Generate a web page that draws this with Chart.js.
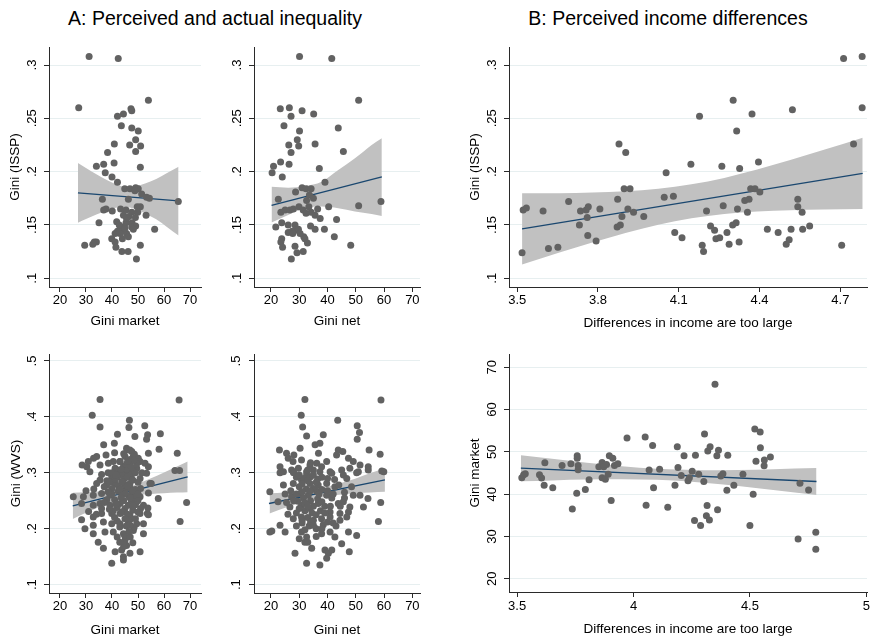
<!DOCTYPE html>
<html><head><meta charset="utf-8">
<script src="https://cdn.jsdelivr.net/npm/chart.js@4/dist/chart.umd.min.js"></script>
<style>
html,body{margin:0;padding:0;background:#fff;width:871px;height:641px;overflow:hidden;position:relative;font-family:"Liberation Sans",Arial,sans-serif}
.box{position:absolute}
.ttl{position:absolute;top:7px;font-size:19.5px;line-height:22px;color:#000;white-space:nowrap;transform:translateX(-50%)}
</style></head><body>
<div class="ttl" style="left:215px">A: Perceived and actual inequality</div>
<div class="ttl" style="left:668px">B: Perceived income differences</div>
<canvas id="c1" class="box"></canvas>
<canvas id="c2" class="box"></canvas>
<canvas id="c3" class="box"></canvas>
<canvas id="c4" class="box"></canvas>
<canvas id="c5" class="box"></canvas>
<canvas id="c6" class="box"></canvas>
<script>
// ---------- tick values and labels ----------
const giniTicks = [20, 30, 40, 50, 60, 70];
const giniTickLabels = ['20', '30', '40', '50', '60', '70'];
const issTicks = [0.1, 0.15, 0.2, 0.25, 0.3];
const issTickLabels = ['.1', '.15', '.2', '.25', '.3'];
const wvsTicks = [0.1, 0.2, 0.3, 0.4, 0.5];
const wvsTickLabels = ['.1', '.2', '.3', '.4', '.5'];
const diffTicksTop = [3.5, 3.8, 4.1, 4.4, 4.7];
const diffTickLabelsTop = ['3.5', '3.8', '4.1', '4.4', '4.7'];
const diffTicksBottom = [3.5, 4, 4.5, 5];
const diffTickLabelsBottom = ['3.5', '4', '4.5', '5'];
const marketTicks = [20, 30, 40, 50, 60, 70];
const marketTickLabels = ['20', '30', '40', '50', '60', '70'];

// ---------- ISSP Gini vs market Gini ----------
const isspMarket = [[31.2,.308],[42.4,.306],[27.2,.260],[54.0,.267],[42.1,.252],[44.4,.254],[47.3,.259],[47.6,.257],[43.6,.243],[47.6,.241],[50.1,.238],[40.9,.226],[46.8,.225],[49.1,.230],[51.0,.224],[49.1,.219],[38.3,.218],[40.8,.208],[34.0,.205],[36.8,.207],[50.9,.204],[37.4,.199],[40.0,.195],[42.1,.190],[44.9,.184],[46.9,.184],[49.1,.185],[50.1,.184],[48.8,.182],[51.4,.179],[53.3,.176],[54.4,.175],[65.5,.172],[36.3,.174],[46.3,.174],[36.8,.164],[37.7,.165],[40.1,.163],[43.3,.165],[45.4,.164],[47.6,.162],[49.7,.167],[50.9,.167],[49.9,.162],[44.4,.159],[46.5,.158],[53.1,.159],[49.0,.157],[35.0,.152],[41.8,.153],[45.4,.152],[47.7,.152],[49.1,.149],[43.6,.148],[47.6,.148],[48.2,.146],[56.4,.146],[42.1,.144],[44.4,.145],[41.2,.142],[43.1,.142],[45.6,.142],[46.3,.139],[44.0,.137],[39.9,.137],[41.2,.134],[33.2,.134],[34.0,.134],[32.6,.132],[29.5,.131],[50.9,.131],[41.5,.129],[43.8,.125],[46.2,.125],[49.4,.118],[45.6,.156],[42.8,.150],[45.0,.147]];
const isspMarketFit = [[26.9,.1800],[65.6,.1725]];
const isspMarketUpper = [[26.9,.2080],[30,.2033],[34,.1975],[38,.1921],[42,.1878],[45.5,.1859],[49,.1864],[53,.1892],[57,.1931],[61,.1985],[65.6,.2045]];
const isspMarketLower = [[26.9,.1520],[30,.1555],[34,.1597],[38,.1635],[42,.1664],[45.5,.1669],[49,.1650],[53,.1606],[57,.1553],[61,.1483],[65.6,.1400]];

// ---------- ISSP Gini vs net Gini ----------
const isspNet = [[30.1,.308],[41.5,.306],[51.0,.267],[23.3,.259],[26.5,.260],[31.0,.257],[27.1,.252],[35.1,.254],[24.6,.243],[43.8,.241],[30.1,.238],[29.3,.230],[26.3,.225],[29.8,.224],[35.6,.226],[27.1,.218],[45.6,.219],[23.4,.209],[26.4,.207],[20.9,.205],[20.4,.199],[37.1,.203],[24.0,.195],[39.1,.190],[31.0,.185],[32.4,.184],[34.2,.184],[28.7,.181],[33.6,.178],[35.0,.175],[22.6,.174],[32.6,.173],[51.0,.168],[58.9,.172],[40.4,.167],[36.5,.165],[23.5,.162],[25.0,.164],[26.7,.164],[27.9,.165],[29.9,.167],[31.4,.164],[32.4,.161],[34.2,.162],[33.4,.167],[35.6,.159],[37.4,.156],[43.2,.155],[23.8,.152],[21.7,.148],[26.1,.150],[28.5,.150],[26.1,.143],[27.5,.144],[28.7,.145],[29.7,.146],[34.0,.149],[35.6,.146],[38.9,.146],[31.6,.139],[23.8,.137],[23.5,.134],[32.0,.137],[32.9,.133],[42.4,.139],[24.1,.129],[28.5,.130],[29.2,.124],[31.4,.125],[48.2,.131],[27.2,.118],[27.7,.142],[30.3,.142]];
const isspNetFit = [[20.2,.1684],[59.2,.1950]];
const isspNetUpper = [[20.2,.1859],[26.1,.1850],[32.0,.1866],[37.9,.1906],[43.8,.2016],[49.7,.2125],[55.6,.2250],[59.2,.2313]];
const isspNetLower = [[20.2,.1522],[26.1,.1594],[32.0,.1656],[37.9,.1672],[43.8,.1656],[49.7,.1625],[55.6,.1603],[59.2,.1584]];

// ---------- ISSP Gini vs perceived differences ----------
const isspDiff = [[3.518,.124],[3.522,.164],[3.534,.166],[3.596,.163],[3.616,.128],[3.651,.129],[3.691,.172],[3.731,.150],[3.735,.163],[3.756,.164],[3.760,.157],[3.764,.167],[3.762,.140],[3.793,.135],[3.807,.165],[3.873,.174],[3.878,.226],[3.871,.148],[3.883,.150],[3.889,.158],[3.897,.184],[3.903,.218],[3.919,.184],[3.911,.165],[3.932,.162],[3.970,.158],[4.053,.199],[4.046,.176],[4.080,.177],[4.085,.143],[4.112,.138],[4.145,.207],[4.177,.252],[4.187,.131],[4.192,.125],[4.203,.163],[4.218,.149],[4.233,.145],[4.238,.137],[4.252,.138],[4.260,.205],[4.265,.168],[4.279,.143],[4.287,.132],[4.300,.150],[4.313,.152],[4.302,.267],[4.315,.238],[4.318,.165],[4.324,.134],[4.326,.203],[4.345,.173],[4.355,.162],[4.361,.174],[4.367,.184],[4.372,.254],[4.383,.184],[4.396,.209],[4.401,.181],[4.429,.146],[4.469,.143],[4.499,.132],[4.510,.136],[4.517,.146],[4.522,.258],[4.542,.174],[4.542,.167],[4.558,.162],[4.560,.146],[4.586,.149],[4.705,.131],[4.712,.306],[4.749,.226],[4.781,.308],[4.781,.260]];
const isspDiffFit = [[3.518,.1463],[4.783,.1984]];
const isspDiffUpper = [[3.518,.1797],[3.657,.1798],[3.779,.1804],[3.902,.1817],[4.024,.1840],[4.147,.1881],[4.269,.1941],[4.391,.2019],[4.514,.2108],[4.636,.2202],[4.783,.2319]];
const isspDiffLower = [[3.518,.1128],[3.657,.1242],[3.779,.1336],[3.902,.1425],[4.024,.1503],[4.147,.1563],[4.269,.1603],[4.391,.1627],[4.514,.1639],[4.636,.1646],[4.783,.1650]];

// ---------- WVS Gini vs market Gini ----------
const wvsMarket = [[35.4,.431],[65.8,.430],[32.4,.403],[35.4,.382],[46.7,.394],[46.5,.381],[52.6,.384],[42.1,.369],[48.8,.365],[53.7,.368],[53.3,.360],[58.6,.370],[36.8,.350],[40.9,.353],[45.6,.344],[47.6,.338],[48.6,.333],[54.0,.335],[58.1,.342],[65.1,.335],[37.7,.332],[34.1,.329],[32.9,.326],[30.9,.320],[28.5,.314],[30.3,.311],[45.8,.341],[46.9,.341],[45.0,.329],[48.2,.329],[50.1,.326],[52.7,.317],[50.8,.320],[43.1,.320],[40.5,.320],[38.6,.317],[35.4,.314],[41.2,.308],[44.4,.311],[46.9,.314],[49.5,.308],[54.0,.311],[64.2,.304],[66.0,.304],
[31.5,.302],[35.4,.287],[39.9,.293],[42.4,.299],[45.6,.300],[48.2,.302],[50.8,.290],[53.3,.299],[54.6,.281],[34.1,.281],[37.9,.278],[41.2,.281],[43.7,.284],[46.9,.281],[25.1,.257],[29.0,.257],[32.8,.260],[36.0,.263],[39.2,.260],[42.4,.267],[45.0,.270],[47.6,.264],[50.8,.257],[54.0,.264],[57.8,.254],[68.7,.247],[66.2,.213],[28.3,.245],[32.8,.242],[35.4,.245],[39.2,.242],[43.1,.245],[46.3,.242],[49.5,.248],[52.1,.242],[28.3,.216],[32.8,.221],[36.0,.227],[39.9,.227],[43.1,.227],[46.9,.224],[50.8,.227],[53.6,.227],[29.6,.200],[32.8,.206],[36.7,.212],[39.9,.209],[43.1,.209],[46.3,.212],[49.5,.209],[52.1,.209],[32.8,.191],[37.3,.194],[40.5,.194],[44.4,.191],[48.2,.197],[52.1,.191],[34.7,.176],[45.0,.179],[45.6,.170],[36.7,.165],[41.2,.159],[43.7,.162],[46.9,.156],[50.8,.159],[44.4,.150],[39.9,.138],[44.4,.144],[55.1,.281],[53.8,.237],[54.0,.225],
[42.0,.305],[44.0,.296],[46.0,.306],[47.5,.296],[49.0,.300],[44.5,.288],[46.0,.292],[48.0,.287],[50.0,.283],[42.5,.276],[45.0,.278],[47.0,.273],[49.0,.270],[51.0,.272],[44.0,.262],[46.5,.258],[48.5,.255],[41.0,.252],[44.5,.250],[47.5,.249],[50.0,.251],[42.0,.238],[45.0,.236],[48.0,.233],[51.0,.236],[40.5,.232],[44.0,.230],[47.0,.217],[49.0,.218],[42.0,.214],[45.5,.205],[48.5,.202],[38.0,.286],[40.0,.272],[38.0,.252],[36.0,.236],[34.0,.226],[31.0,.231],[30.0,.268],[33.0,.271],[38.5,.300],[36.0,.297],[51.5,.300],[43.0,.320],[47.0,.324],[49.5,.316],[44.5,.334],[41.0,.336],
[40.0,.300],[42.0,.292],[44.0,.283],[46.0,.276],[48.0,.268],[50.0,.262],[41.0,.288],[43.0,.270],[45.0,.262],[47.0,.255],[49.0,.243],[43.5,.256],[41.5,.244],[40.0,.262],[38.5,.266],[37.0,.275],[39.0,.283],[45.5,.315],[47.5,.310],[43.5,.306],[41.5,.296],[48.5,.322],[46.0,.320],[44.0,.230],[46.0,.226],[48.0,.240],[50.0,.230],[45.0,.218],[43.0,.203],[47.0,.206],[41.0,.220],[39.0,.235],[37.0,.247],[45.0,.186],[47.0,.185],[42.0,.185],[46.5,.195],[44.5,.168],[48.0,.175],[43.0,.176]];
const wvsMarketFit = [[24.9,.2409],[69.1,.2928]];
const wvsMarketUpper = [[24.9,.2644],[30,.2654],[35,.2667],[40,.2686],[45,.2732],[50,.2804],[55,.2901],[60,.3006],[65,.3114],[69.1,.3204]];
const wvsMarketLower = [[24.9,.2174],[30,.2284],[35,.2389],[40,.2487],[45,.2558],[50,.2604],[55,.2623],[60,.2636],[65,.2646],[69.1,.2652]];

// ---------- WVS Gini vs net Gini ----------
const wvsNet = [[32.0,.431],[58.9,.430],[30.7,.403],[31.2,.382],[43.6,.394],[32.6,.366],[50.5,.384],[51.3,.372],[50.5,.360],[38.5,.368],[37.3,.353],[35.6,.350],[23.0,.341],[30.3,.344],[25.5,.335],[28.1,.332],[36.8,.335],[43.8,.341],[43.2,.332],[45.4,.338],[54.7,.341],[58.6,.333],[26.1,.326],[27.8,.320],[30.8,.323],[33.8,.314],[36.2,.317],[39.7,.320],[47.4,.326],[49.1,.320],[51.5,.314],[54.4,.311],[23.2,.311],[24.4,.302],[27.3,.305],[29.7,.308],[32.6,.302],[35.0,.305],[37.9,.311],[40.9,.302],[45.0,.305],[47.9,.308],[50.9,.302],[54.4,.305],[59.2,.303],
[23.2,.300],[27.9,.302],[32.6,.296],[37.3,.302],[41.5,.299],[45.6,.296],[50.3,.300],[59.9,.302],[19.6,.266],[22.5,.248],[24.4,.278],[27.9,.281],[30.8,.287],[33.8,.281],[36.7,.278],[39.7,.281],[42.6,.275],[46.8,.290],[49.1,.260],[51.5,.260],[54.3,.254],[58.8,.247],[58.0,.213],[27.3,.257],[30.3,.263],[33.2,.260],[36.2,.267],[39.7,.260],[43.8,.245],[45.6,.248],[47.9,.239],[52.7,.239],[26.7,.239],[30.8,.242],[33.8,.236],[36.7,.245],[40.9,.230],[44.4,.227],[47.4,.230],[27.9,.218],[30.8,.221],[35.0,.215],[37.9,.218],[40.9,.221],[44.4,.215],[46.8,.221],[19.6,.194],[23.2,.206],[25.0,.194],[30.8,.194],[32.6,.185],[37.9,.191],[40.9,.194],[42.6,.185],[47.4,.194],[50.3,.188],[45.0,.173],[32.0,.176],[34.4,.165],[28.5,.156],[39.1,.162],[40.3,.156],[41.5,.162],[47.7,.159],[32.6,.138],[37.3,.135],[39.7,.147],[20.3,.196],
[29.0,.292],[31.5,.290],[34.0,.293],[36.5,.289],[30.0,.275],[32.5,.271],[35.0,.272],[38.0,.270],[31.5,.255],[34.0,.250],[36.5,.253],[29.5,.249],[32.0,.232],[34.5,.228],[37.5,.232],[39.0,.240],[31.0,.210],[33.5,.205],[36.0,.200],[38.5,.207],[42.0,.210],[44.5,.240],[41.5,.255],[46.0,.265],[48.5,.275],[42.5,.288],[27.0,.268],[25.5,.247],[29.0,.228],[33.0,.220],
[28.0,.300],[30.0,.296],[33.0,.305],[35.0,.296],[31.0,.280],[33.0,.286],[36.0,.283],[38.0,.292],[29.0,.262],[31.0,.266],[34.0,.268],[37.0,.262],[40.0,.268],[28.0,.250],[32.0,.246],[35.0,.240],[38.0,.248],[41.0,.240],[30.0,.236],[33.0,.240],[36.0,.225],[39.0,.228],[31.0,.215],[34.0,.212],[29.0,.205],[32.0,.198],[35.0,.206],[38.0,.200],[40.0,.212],[43.0,.205],[30.0,.182],[33.0,.176],[36.0,.186],[26.0,.226],[25.0,.262],[44.0,.278],[42.0,.262],[46.0,.255],[40.0,.290],[34.0,.318]];
const wvsNetFit = [[19.3,.2451],[60.3,.2872]];
const wvsNetUpper = [[19.5,.2632],[25,.2647],[30,.2665],[35,.2696],[40,.2750],[45,.2820],[50,.2900],[55,.2990],[60.3,.3085]];
const wvsNetLower = [[19.5,.2274],[25,.2373],[30,.2457],[35,.2528],[40,.2578],[45,.2610],[50,.2632],[55,.2646],[60.3,.2659]];

// ---------- market Gini vs perceived differences ----------
const marketDiff = [[3.520,43.9],[3.528,44.6],[3.535,44.8],[3.596,44.6],[3.605,43.8],[3.616,42.1],[3.619,47.4],[3.653,41.5],[3.693,46.8],[3.731,47.2],[3.737,36.5],[3.756,40.2],[3.758,49.1],[3.758,48.5],[3.762,46.8],[3.762,45.8],[3.793,41.1],[3.809,43.4],[3.851,46.5],[3.865,47.5],[3.872,46.5],[3.865,43.9],[3.879,43.5],[3.884,47.0],[3.891,44.7],[3.896,49.1],[3.904,38.5],[3.911,48.5],[3.918,46.8],[3.933,47.2],[3.972,53.3],[4.050,53.5],[4.054,37.4],[4.067,45.7],[4.082,51.5],[4.086,41.5],[4.112,45.9],[4.147,36.9],[4.178,42.1],[4.188,51.2],[4.191,46.3],[4.205,44.4],[4.217,49.1],[4.234,43.2],[4.240,43.9],[4.252,45.4],[4.262,33.8],[4.266,49.2],[4.280,44.7],[4.288,32.6],[4.305,54.2],[4.302,43.0],[4.316,37.3],[4.313,34.9],[4.319,50.2],[4.326,33.9],[4.329,51.2],[4.350,66.0],[4.358,49.1],[4.361,36.3],[4.365,50.4],[4.375,44.3],[4.384,44.8],[4.401,40.9],[4.405,49.2],[4.431,42.1],[4.470,44.7],[4.500,32.6],[4.514,40.0],[4.521,55.4],[4.526,47.8],[4.544,54.7],[4.545,51.0],[4.561,46.7],[4.562,48.1],[4.588,48.8],[4.707,29.4],[4.715,42.6],[4.752,41.0],[4.783,31.0],[4.783,27.0]];
const marketDiffFit = [[3.516,46.14],[4.786,42.99]];
const marketDiffUpper = [[3.516,49.22],[3.65,48.36],[3.8,47.44],[3.95,46.61],[4.1,46.00],[4.15,45.87],[4.3,45.68],[4.45,45.72],[4.6,45.89],[4.786,46.16]];
const marketDiffLower = [[3.516,43.06],[3.65,43.26],[3.8,43.44],[3.95,43.51],[4.1,43.38],[4.15,43.27],[4.3,42.72],[4.45,41.92],[4.6,41.01],[4.786,39.82]];

// ---------- drawing ----------
const FONT = '"Liberation Sans", Arial, Helvetica, sans-serif';
const MARK = '#626262';
const NAVY = '#1a476f';
const BAND = '#c1c1c1';
const GRID = '#e7eff0';
const AXIS = '#2a2a2a';
const TICK_SIZE = 13;
const TITLE_SIZE = 13.5;

const measureCtx = document.createElement('canvas').getContext('2d');
function textWidth(s, size) {
  measureCtx.font = size + 'px ' + FONT;
  return measureCtx.measureText(s).width;
}
const toXY = arr => arr.map(p => ({ x: p[0], y: p[1] }));

function panel(id, cfg) {
  const [L, T, W, H] = cfg.box;
  const [al, at, ar, ab] = cfg.area;
  const lh = TITLE_SIZE * 1.2;
  const yW = cfg.yTitle ? al - (cfg.yTitleX - lh / 2) : cfg.yAxisW;
  const xH = (cfg.xTitleY + lh / 2) - ab;
  const widest = Math.max(...cfg.yLabels.map(s => textWidth(s, TICK_SIZE)));
  const yPad = cfg.yLabelOffset - 5 - widest / 2;

  const cv = document.getElementById(id);
  cv.width = W; cv.height = H;
  cv.style.left = L + 'px'; cv.style.top = T + 'px';
  cv.style.width = W + 'px'; cv.style.height = H + 'px';

  const fixTicks = (vals) => (s) => { s.ticks = vals.map(v => ({ value: v })); };
  const labelOf = (vals, labels) => (v) => { const i = vals.indexOf(v); return i < 0 ? '' : labels[i]; };

  new Chart(cv, {
    type: 'line',
    data: {
      datasets: [
        { data: toXY(cfg.points), showLine: false, pointRadius: 3.5, pointBackgroundColor: MARK,
          pointBorderWidth: 0, pointBorderColor: MARK, order: 0 },
        { data: toXY(cfg.fit), borderColor: NAVY, borderWidth: 1.3, pointRadius: 0, fill: false, order: 1 },
        { data: toXY(cfg.upper), borderWidth: 0, borderColor: 'rgba(0,0,0,0)', pointRadius: 0,
          fill: '+1', backgroundColor: BAND, cubicInterpolationMode: 'monotone', order: 2 },
        { data: toXY(cfg.lower), borderWidth: 0, borderColor: 'rgba(0,0,0,0)', pointRadius: 0,
          fill: false, cubicInterpolationMode: 'monotone', order: 3 }
      ]
    },
    options: {
      responsive: false, animation: false, events: [],
      layout: { padding: { left: al - L - yW, top: at - T, right: L + W - ar, bottom: T + H - ab - xH } },
      plugins: { legend: { display: false }, tooltip: { enabled: false } },
      scales: {
        x: {
          type: 'linear', min: cfg.xMin, max: cfg.xMax,
          afterBuildTicks: fixTicks(cfg.xTicks),
          afterFit: s => { s.height = xH; s.paddingLeft = 0; s.paddingRight = 0; },
          ticks: { autoSkip: false, maxRotation: 0, minRotation: 0, padding: cfg.xTickPad,
                   color: '#000', font: { family: FONT, size: TICK_SIZE },
                   callback: labelOf(cfg.xTicks, cfg.xLabels) },
          grid: { drawOnChartArea: false, drawTicks: true, tickLength: 5, tickColor: AXIS, tickWidth: 1 },
          border: { display: true, color: AXIS, width: 1 },
          title: { display: true, text: cfg.xTitle, color: '#000', padding: 0,
                   font: { family: FONT, size: TITLE_SIZE } }
        },
        y: {
          type: 'linear', min: cfg.yMin, max: cfg.yMax,
          afterBuildTicks: fixTicks(cfg.yTicks),
          afterFit: s => { s.width = yW; s.paddingTop = 0; s.paddingBottom = 0; },
          ticks: { autoSkip: false, minRotation: 90, maxRotation: 90, crossAlign: 'center', padding: yPad,
                   color: '#000', font: { family: FONT, size: TICK_SIZE },
                   callback: labelOf(cfg.yTicks, cfg.yLabels) },
          grid: { drawOnChartArea: true, color: GRID, lineWidth: 1, drawTicks: true, tickLength: 5,
                  tickColor: AXIS, tickWidth: 1 },
          border: { display: true, color: AXIS, width: 1 },
          title: { display: !!cfg.yTitle, text: cfg.yTitle || '', color: '#000', padding: 0,
                   font: { family: FONT, size: TITLE_SIZE } }
        }
      }
    }
  });
}

panel('c1', {
  box: [0, 30, 212, 305], area: [49, 47, 201, 287],
  xMin: 15.77, xMax: 74.23, yMin: 0.0918, yMax: 0.3169,
  xTicks: giniTicks, xLabels: giniTickLabels, yTicks: issTicks, yLabels: issTickLabels,
  xTitle: 'Gini market', yTitle: 'Gini (ISSP)', yTitleX: 15, xTitleY: 321,
  yLabelOffset: 16.8, xTickPad: 0.5,
  points: isspMarket, fit: isspMarketFit, upper: isspMarketUpper, lower: isspMarketLower
});
panel('c2', {
  box: [212, 30, 230, 305], area: [254, 47, 420, 287], yAxisW: 32,
  xMin: 14.0, xMax: 72.7, yMin: 0.0918, yMax: 0.3169,
  xTicks: giniTicks, xLabels: giniTickLabels, yTicks: issTicks, yLabels: issTickLabels,
  xTitle: 'Gini net', xTitleY: 321,
  yLabelOffset: 16.8, xTickPad: 0.5,
  points: isspNet, fit: isspNetFit, upper: isspNetUpper, lower: isspNetLower
});
panel('c3', {
  box: [460, 30, 411, 305], area: [509, 47, 871, 287],
  xMin: 3.4695, xMax: 4.799, yMin: 0.0918, yMax: 0.3169,
  xTicks: diffTicksTop, xLabels: diffTickLabelsTop, yTicks: issTicks, yLabels: issTickLabels,
  xTitle: 'Differences in income are too large', yTitle: 'Gini (ISSP)', yTitleX: 475, xTitleY: 323,
  yLabelOffset: 16.8, xTickPad: 1,
  points: isspDiff, fit: isspDiffFit, upper: isspDiffUpper, lower: isspDiffLower
});
panel('c4', {
  box: [0, 338, 212, 303], area: [49, 354, 201, 593],
  xMin: 15.77, xMax: 74.23, yMin: 0.085, yMax: 0.5125,
  xTicks: giniTicks, xLabels: giniTickLabels, yTicks: wvsTicks, yLabels: wvsTickLabels,
  xTitle: 'Gini market', yTitle: 'Gini (WVS)', yTitleX: 16, xTitleY: 630,
  yLabelOffset: 16.8, xTickPad: 1,
  points: wvsMarket, fit: wvsMarketFit, upper: wvsMarketUpper, lower: wvsMarketLower
});
panel('c5', {
  box: [212, 338, 230, 303], area: [254, 354, 420, 593], yAxisW: 32,
  xMin: 14.0, xMax: 72.7, yMin: 0.085, yMax: 0.5125,
  xTicks: giniTicks, xLabels: giniTickLabels, yTicks: wvsTicks, yLabels: wvsTickLabels,
  xTitle: 'Gini net', xTitleY: 630,
  yLabelOffset: 17.5, xTickPad: 1,
  points: wvsNet, fit: wvsNetFit, upper: wvsNetUpper, lower: wvsNetLower
});
panel('c6', {
  box: [460, 338, 411, 303], area: [509, 354, 871, 592],
  xMin: 3.465, xMax: 5.003, yMin: 16.86, yMax: 73.15,
  xTicks: diffTicksBottom, xLabels: diffTickLabelsBottom, yTicks: marketTicks, yLabels: marketTickLabels,
  xTitle: 'Differences in income are too large', yTitle: 'Gini market', yTitleX: 475, xTitleY: 629,
  yLabelOffset: 16.8, xTickPad: 1.5,
  points: marketDiff, fit: marketDiffFit, upper: marketDiffUpper, lower: marketDiffLower
});
</script>
</body></html>
